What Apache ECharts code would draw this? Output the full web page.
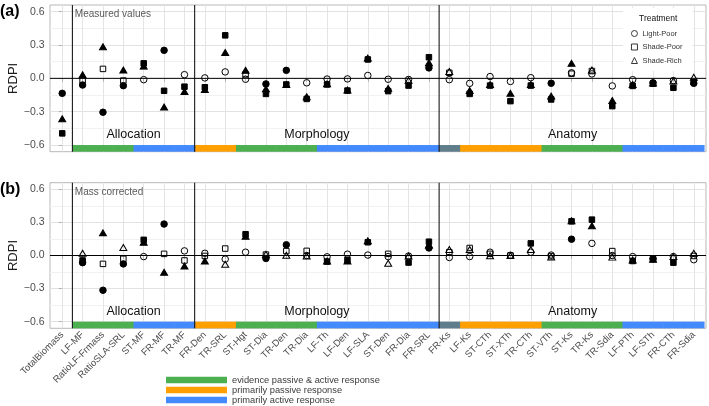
<!DOCTYPE html>
<html><head><meta charset="utf-8">
<script src="https://cdn.jsdelivr.net/npm/echarts@6/dist/echarts.min.js"></script>
<style>html,body{margin:0;padding:0;background:#fff}#c{width:709px;height:406px}</style>
</head><body><div id="c"></div>
<script>
// ---------- data ----------
const categories = ['TotalBiomass','LF-MF','RatioLF-Frmass','RatioSLA-SRL','ST-MF','FR-MF','TR-MF','FR-Den','TR-SRL','ST-Hgt','ST-Dia','TR-Den','TR-Dia','LF-Th','LF-Den','LF-SLA','ST-Den','FR-Dia','FR-SRL','FR-Ks','LF-Ks','ST-CTh','ST-XTh','TR-CTh','ST-VTh','ST-Ks','TR-Ks','TR-Sdia','LF-PTh','LF-STh','FR-CTh','FR-Sdia'];
const responseType = [null,'both','both','both','active','active','active','passive','passive','both','both','both','both','active','active','active','active','active','active','none','passive','passive','passive','passive','both','both','both','both','active','active','active','active'];
const responseNames = ['evidence passive & active response','primarily passive response','primarily active response'];
const groupNames = ['Allocation','Morphology','Anatomy'];
const groupCenters = [3.5, 12.5, 25.05];
const groupBreaks = [0.5, 6.5, 18.5];
const yTicks = [-0.6, -0.3, 0, 0.3, 0.6];
const yMinorTicks = [-0.45, -0.15, 0.15, 0.45];
const treatments = ['Light-Poor','Shade-Poor','Shade-Rich'];
const panelNotes = ['Measured values','Mass corrected'];

// (a) measured values ; *Sig: 1 = filled marker
const measuredLightPoor    = [-0.135,-0.06,-0.305,-0.066,-0.012,0.252,0.033,0.004,0.058,-0.008,-0.05,0.072,-0.04,-0.006,-0.005,0.026,-0.008,-0.01,0.094,-0.012,-0.045,0.016,-0.028,0.006,-0.044,0.05,0.04,-0.068,-0.012,-0.04,-0.02,-0.045];
const measuredLightPoorSig = [1,1,1,1,0,1,0,0,0,0,1,1,0,0,0,0,0,0,1,0,0,0,0,0,1,0,0,0,0,1,0,1];
const measuredShadePoor    = [-0.495,-0.018,0.085,-0.02,0.135,-0.112,-0.075,-0.08,0.387,0.035,-0.14,-0.055,-0.185,-0.055,-0.11,0.17,-0.115,-0.065,0.19,0.05,-0.14,-0.065,-0.205,-0.065,-0.19,0.042,0.066,-0.25,-0.068,-0.048,-0.085,-0.035];
const measuredShadePoorSig = [1,0,0,0,1,1,1,1,1,0,1,1,1,1,1,1,1,1,1,0,1,1,1,1,1,0,0,1,1,1,1,1];
const measuredShadeRich    = [-0.363,0.033,0.285,0.075,0.11,-0.258,-0.118,-0.1,0.232,0.073,-0.095,-0.055,-0.165,-0.05,-0.105,0.182,-0.09,-0.018,0.14,0.062,-0.11,-0.055,-0.135,-0.055,-0.16,0.135,0.075,-0.2,-0.055,-0.042,-0.024,0.01];
const measuredShadeRichSig = [1,1,1,1,1,1,1,1,1,1,1,1,1,1,1,1,1,0,1,0,1,1,1,1,1,1,0,1,1,1,0,0];

// (b) mass corrected
const correctedLightPoor    = [null,-0.065,-0.315,-0.076,-0.01,0.285,0.042,0.02,-0.033,0.03,-0.027,0.097,0.0,-0.012,0.012,0.004,-0.01,-0.005,0.068,-0.018,-0.01,0.03,0.002,0.03,0.004,0.148,0.11,0.0,-0.01,-0.03,-0.01,-0.038];
const correctedLightPoorSig = [0,1,1,1,0,1,0,0,0,0,1,1,0,0,0,0,0,0,1,0,0,0,0,0,0,1,0,0,0,1,0,0];
const correctedShadePoor    = [null,-0.045,-0.076,-0.03,0.142,0.015,-0.045,-0.004,0.063,0.193,0.008,0.04,0.042,-0.055,-0.04,0.12,0.015,-0.064,0.125,0.03,0.068,0.015,0.0,0.11,-0.008,0.31,0.325,0.04,-0.05,-0.032,-0.065,-0.004];
const correctedShadePoorSig = [0,1,0,0,1,0,0,0,0,1,0,0,0,1,1,1,0,1,1,0,0,0,0,1,0,1,1,0,1,1,1,0];
const correctedShadeRich    = [null,0.021,0.205,0.072,0.12,-0.152,-0.095,-0.05,-0.08,0.175,0.01,0.003,-0.004,-0.05,-0.05,0.133,-0.07,-0.004,0.095,0.055,0.055,-0.003,0.0,0.055,-0.015,0.315,0.27,-0.015,-0.04,-0.035,-0.01,0.02];
const correctedShadeRichSig = [0,0,1,0,1,1,1,1,0,1,0,0,0,1,1,1,0,0,1,0,0,0,0,0,0,1,1,0,1,1,0,0];

// ---------- styles ----------
const FONT = '"Liberation Sans", Arial, sans-serif';
const symbols = ['circle','rect','triangle'];
const symbolSizes = [6.5, 5.5, [7, 6]];
const bandKeys = ['both','passive','active','none'];
const bandColors = {both:'#4CAF50', passive:'#FFA000', active:'#448AFF', none:'#607D8B'};
const bandLabel = {both:responseNames[0], passive:responseNames[1], active:responseNames[2], none:'other'};
const X_MIN = -0.6, X_MAX = 31.6, Y_MIN = -0.66, Y_MAX = 0.66;
const catIdx = categories.map((c, i) => i);

const panels = [
  {values:[measuredLightPoor, measuredShadePoor, measuredShadeRich], sig:[measuredLightPoorSig, measuredShadePoorSig, measuredShadeRichSig], top:5, height:146.7, labels:false},
  {values:[correctedLightPoor, correctedShadePoor, correctedShadeRich], sig:[correctedLightPoorSig, correctedShadePoorSig, correctedShadeRichSig], top:182.7, height:145.6, labels:true}
];

const grid = [], xAxis = [], yAxis = [], series = [];
const fmtY = v => (v < 0 ? '\u2212' : '') + Math.abs(v).toFixed(1);

panels.forEach((p, pi) => {
  grid.push({left:50, top:p.top, width:656, height:p.height, show:true, backgroundColor:'#fff', borderColor:'#b8b8b8', borderWidth:1, outerBoundsMode:'none'});
  xAxis.push({
    type:'value', gridIndex:pi, min:X_MIN, max:X_MAX,
    axisLine:{show:false},
    axisTick:{show:true, customValues:catIdx, length:3.5, lineStyle:{color:'#b3b3b3'}},
    axisLabel:{show:p.labels, customValues:catIdx, rotate:45, margin:5, fontSize:9.5, color:'#4d4d4d', fontFamily:FONT,
      formatter: v => categories[Math.round(v)] || ''},
    splitLine:{show:true, lineStyle:{color:'#e4e4e4', width:1}}
  });
  yAxis.push({
    type:'value', gridIndex:pi, min:Y_MIN, max:Y_MAX,
    name:'RDPI', nameLocation:'middle', nameGap:30, nameRotate:90, nameMoveOverlap:false,
    nameTextStyle:{fontSize:13, color:'#1a1a1a', fontFamily:FONT},
    axisLine:{show:false},
    axisTick:{show:true, customValues:yTicks, length:3.5, lineStyle:{color:'#b3b3b3'}},
    axisLabel:{customValues:yTicks, formatter:fmtY, margin:5.5, fontSize:10.5, color:'#4d4d4d', fontFamily:FONT},
    splitLine:{show:true, lineStyle:{color:'#e2e2e2', width:1}}
  });
  yAxis.push({
    type:'value', gridIndex:pi, min:Y_MIN, max:Y_MAX, position:'right',
    axisLine:{show:false}, axisLabel:{show:false},
    axisTick:{show:false, customValues:yMinorTicks},
    splitLine:{show:true, lineStyle:{color:'#f1f1f1', width:1}}
  });
  const xi = pi, yi = pi * 2;

  // response bands
  bandKeys.forEach(k => {
    const d = [];
    responseType.forEach((t, i) => { if (t === k) d.push([i, -0.63]); });
    series.push({
      type:'custom', name:bandLabel[k], xAxisIndex:xi, yAxisIndex:yi, z:2, silent:true,
      itemStyle:{color:bandColors[k]}, data:d,
      renderItem:(params, api) => {
        const i = api.value(0);
        const p0 = api.coord([i - 0.5, -0.6]);
        const p1 = api.coord([Math.min(i + 0.5, 31.55), Y_MIN]);
        return {type:'rect', shape:{x:p0[0], y:p0[1], width:p1[0] - p0[0] + 0.6, height:p1[1] - p0[1]}, style:{fill:bandColors[k]}};
      }
    });
  });

  // group separators
  series.push({
    type:'custom', name:'separators', xAxisIndex:xi, yAxisIndex:yi, z:3, silent:true,
    data:groupBreaks.map(b => [b, 0]),
    renderItem:(params, api) => {
      const a = api.coord([api.value(0), Y_MAX]);
      const b = api.coord([api.value(0), Y_MIN]);
      return {type:'line', shape:{x1:a[0], y1:a[1], x2:b[0], y2:b[1]}, style:{stroke:'#1a1a1a', lineWidth:1.1}};
    }
  });
  // zero line
  series.push({
    type:'custom', name:'zero', xAxisIndex:xi, yAxisIndex:yi, z:3, silent:true,
    data:[[0, 0]],
    renderItem:(params, api) => {
      const a = api.coord([X_MIN, 0]);
      const b = api.coord([X_MAX, 0]);
      return {type:'line', shape:{x1:a[0], y1:a[1], x2:b[0], y2:b[1]}, style:{stroke:'#000', lineWidth:1}};
    }
  });
  // group labels + panel note
  series.push({
    type:'custom', name:'groupText', xAxisIndex:xi, yAxisIndex:yi, z:5, silent:true,
    data:groupCenters.map((c, k) => [c, -0.505, k]),
    renderItem:(params, api) => {
      const pt = api.coord([api.value(0), api.value(1)]);
      return {type:'text', x:pt[0], y:pt[1], style:{text:groupNames[api.value(2)], align:'center', verticalAlign:'middle', fontSize:12.5, fill:'#111', fontFamily:FONT}};
    }
  });
  series.push({
    type:'custom', name:'note', xAxisIndex:xi, yAxisIndex:yi, z:5, silent:true,
    data:[[0.62, 0.575]],
    renderItem:(params, api) => {
      const pt = api.coord([api.value(0), api.value(1)]);
      return {type:'text', x:pt[0], y:pt[1], style:{text:panelNotes[pi], align:'left', verticalAlign:'middle', fontSize:10, fill:'#5a5a5a', fontFamily:FONT}};
    }
  });

  // treatments
  treatments.forEach((t, ti) => {
    const vals = p.values[ti], sig = p.sig[ti];
    const d = [];
    vals.forEach((v, i) => {
      if (v === null) return;
      const item = {value:[i, v]};
      if (sig[i]) item.itemStyle = {color:'#000'};
      d.push(item);
    });
    series.push({
      type:'scatter', name:t, xAxisIndex:xi, yAxisIndex:yi, z:4 + ti * 0.01, silent:true,
      symbol:symbols[ti], symbolSize:symbolSizes[ti],
      itemStyle:{color:'rgba(0,0,0,0)', borderColor:'#000', borderWidth:1, opacity:1},
      data:d
    });
  });
});

const chart = echarts.init(document.getElementById('c'), null, {renderer:'canvas'});
chart.setOption({
  animation:false,
  textStyle:{fontFamily:FONT},
  title:[
    {text:'(a)', left:0, top:4, padding:0, textStyle:{fontSize:16, fontWeight:'bold', color:'#000', fontFamily:FONT}},
    {text:'(b)', left:0, top:182, padding:0, textStyle:{fontSize:16, fontWeight:'bold', color:'#000', fontFamily:FONT}},
    {text:'Treatment', left:639, top:14, padding:0, z:10, textStyle:{fontSize:8.5, fontWeight:'normal', color:'#111', fontFamily:FONT}}
  ],
  legend:[
    {data:treatments, orient:'vertical', left:623, top:8, padding:[21, 10, 6, 8], itemWidth:6, itemHeight:6, itemGap:4.5,
     backgroundColor:'#fff', selectedMode:false, z:8,
     itemStyle:{color:'rgba(0,0,0,0)', borderColor:'#222', borderWidth:0.9},
     textStyle:{fontSize:7.5, lineHeight:9, color:'#333', fontFamily:FONT}},
    {data:responseNames, orient:'vertical', left:166, top:375, height:31, padding:0, itemWidth:61, itemHeight:6.5, itemGap:0,
     icon:'rect', selectedMode:false,
     textStyle:{fontSize:9.3, lineHeight:10, color:'#3a3a3a', fontFamily:FONT}}
  ],
  grid, xAxis, yAxis, series
});
</script></body></html>
